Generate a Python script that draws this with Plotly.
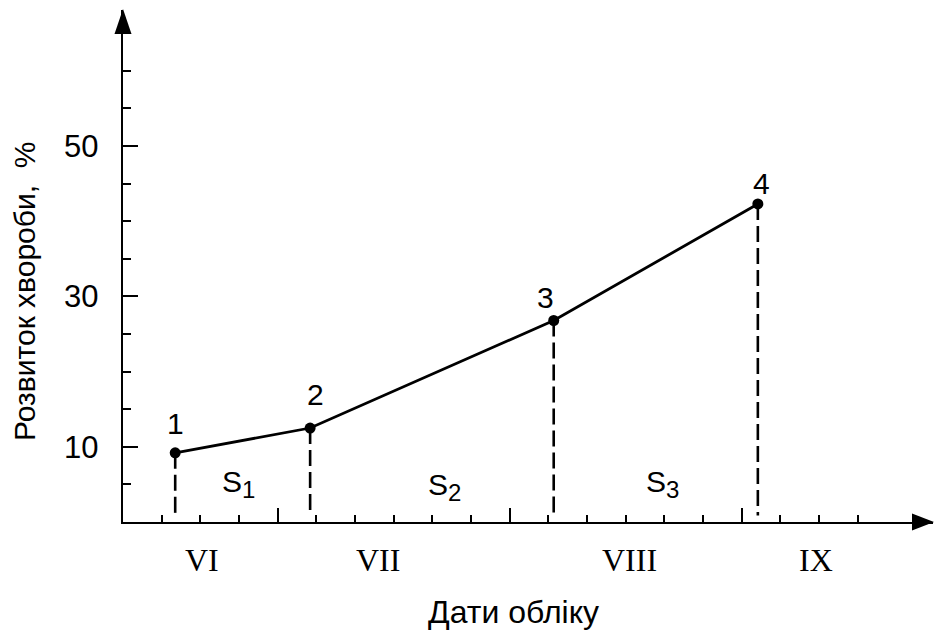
import plotly.graph_objects as go

# Observation dates (day counted from 1 June) and disease development, %
obs_day = [16.75, 34.2, 65.7, 92.1]
incidence = [9.2, 12.5, 26.8, 42.3]
point_labels = ["1", "2", "3", "4"]
# label offsets around each point, px
label_dx = [0, 5, -8, 4]
label_dy = [29, 34, 23, 20]

# Areas under the curve between observations
area_names = ["1", "2", "3"]
area_x = [25.0, 51.6, 79.8]
area_y = [5.0, 4.6, 5.0]

# Months along the time axis
month_labels = ["VI", "VII", "VIII", "IX"]
month_x = [20.2, 43.0, 75.5, 99.6]

# Axis ticks
x_major = [30, 60, 90]
x_minor = [15, 20, 25, 35, 40, 45, 50, 55, 65, 70, 75, 80, 85, 95, 100, 105]
y_major = [10, 30, 50]
y_minor = [5, 15, 20, 25, 35, 40, 45, 55, 60]

X_RANGE = [10, 114.75]
Y_RANGE = [0, 68.1]

SANS = "Liberation Sans, Arial, sans-serif"
SERIF = "Liberation Serif, Times New Roman, serif"
BLACK = "#000000"

fig = go.Figure()

# vertical dashed drop lines from each observation to the time axis
for d, v in zip(obs_day, incidence):
    fig.add_trace(go.Scatter(
        x=[d, d], y=[v, 0.85], mode="lines",
        line=dict(color=BLACK, width=2.6, dash="16px,6px"),
        hoverinfo="skip",
    ))

# disease progress curve
fig.add_trace(go.Scatter(
    x=obs_day, y=incidence, mode="lines+markers",
    line=dict(color=BLACK, width=2.8),
    marker=dict(color=BLACK, size=11),
    cliponaxis=False,
))

annotations = []
for d, v, t, dx, dy in zip(obs_day, incidence, point_labels, label_dx, label_dy):
    annotations.append(dict(
        x=d, y=v, text=t, showarrow=False, xshift=dx, yshift=dy,
        xanchor="center", yanchor="middle",
        font=dict(family=SANS, size=30, color=BLACK),
    ))

for n, x, y in zip(area_names, area_x, area_y):
    annotations.append(dict(
        x=x, y=y, text="S<sub><span style='font-size:24px'>" + n + "</span></sub>",
        showarrow=False, xanchor="center", yanchor="middle",
        font=dict(family=SANS, size=30, color=BLACK),
    ))

for t, x in zip(month_labels, month_x):
    annotations.append(dict(
        x=x, y=0, text=t, showarrow=False, yshift=-38,
        xanchor="center", yanchor="middle",
        font=dict(family=SERIF, size=32, color=BLACK),
    ))

# axis titles
annotations.append(dict(
    x=60.46, y=0, text="Дати обліку", showarrow=False, yshift=-90,
    xanchor="center", yanchor="middle",
    font=dict(family=SANS, size=32, color=BLACK),
))
annotations.append(dict(
    x=0, xref="paper", y=30.6, text="Розвиток хвороби,  %", showarrow=False,
    xshift=-98, textangle=-90, xanchor="center", yanchor="middle",
    font=dict(family=SANS, size=30, color=BLACK),
))

# arrowheads at the ends of both axes
shapes = [
    dict(type="path", xref="x domain", yref="y domain",
         xsizemode="pixel", ysizemode="pixel", xanchor=1, yanchor=0,
         path="M1,0 L-21,8.5 L-21,-8.5 Z",
         fillcolor=BLACK, line=dict(width=0)),
    dict(type="path", xref="x domain", yref="y domain",
         xsizemode="pixel", ysizemode="pixel", xanchor=0, yanchor=1,
         path="M0,1 L-8.5,-24 L8.5,-24 Z",
         fillcolor=BLACK, line=dict(width=0)),
]

fig.update_layout(
    width=934, height=634,
    margin=dict(l=123, r=1, t=10, b=112),
    paper_bgcolor="white", plot_bgcolor="white",
    showlegend=False,
    annotations=annotations,
    shapes=shapes,
    xaxis=dict(
        range=X_RANGE, showline=True, linecolor=BLACK, linewidth=2.4,
        showgrid=False, zeroline=False,
        tickmode="array", tickvals=x_major, ticks="inside",
        ticklen=14, tickwidth=2, tickcolor=BLACK, showticklabels=False,
        minor=dict(tickmode="array", tickvals=x_minor, ticks="inside",
                   ticklen=7, tickwidth=2, tickcolor=BLACK, showgrid=False),
    ),
    yaxis=dict(
        range=Y_RANGE, showline=True, linecolor=BLACK, linewidth=2.4,
        showgrid=False, zeroline=False,
        tickmode="array", tickvals=y_major, ticktext=[str(v) for v in y_major],
        ticks="inside", ticklen=15, tickwidth=2, tickcolor=BLACK,
        tickfont=dict(family=SANS, size=31, color=BLACK),
        ticklabelstandoff=16,
        minor=dict(tickmode="array", tickvals=y_minor, ticks="inside",
                   ticklen=8, tickwidth=2, tickcolor=BLACK, showgrid=False),
    ),
)

fig.write_html("out.html")
